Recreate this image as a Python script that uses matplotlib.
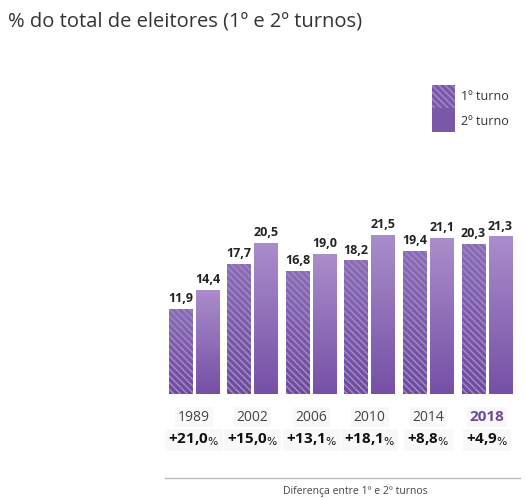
import numpy as np
import matplotlib
matplotlib.use("Agg")
import matplotlib.pyplot as plt
from matplotlib.colors import LinearSegmentedColormap
from matplotlib.patches import Rectangle

anos = ["1989", "2002", "2006", "2010", "2014", "2018"]
turno1 = [11.9, 17.7, 16.8, 18.2, 19.4, 20.3]
turno2 = [14.4, 20.5, 19.0, 21.5, 21.1, 21.3]
diferencas = ["+21,0", "+15,0", "+13,1", "+18,1", "+8,8", "+4,9"]

plt.rcParams["font.family"] = ["Open Sans", "DejaVu Sans"]
plt.rcParams["hatch.linewidth"] = 1.2

W, H = 525, 498
fig = plt.figure(figsize=(W / 100, H / 100), dpi=100)

# eixo em pixels: base das barras em y=394, escala 7.71 px por ponto
base_px = 394
px_unid = 7.71
ybase = 0.87
ymax = 24
x_esq, x_dir = 160, 520
passo = 58.6
x0 = -(194 - x_esq) / passo
ax = fig.add_axes([x_esq / W, (H - base_px) / H, (x_dir - x_esq) / W,
                   (ymax - ybase) * px_unid / H])
ax.set_xlim(x0, x0 + (x_dir - x_esq) / passo)
ax.set_ylim(ybase, ymax)
ax.axis("off")

larg = 24 / passo
desl = 13.5 / passo

grad_solido = LinearSegmentedColormap.from_list("s", ["#7650a6", "#aa8dcb"])
grad_hach = LinearSegmentedColormap.from_list("h", ["#6c4a9c", "#8a6cb5"])
grad = np.linspace(0, 1, 100).reshape(-1, 1)

for i, (v1, v2) in enumerate(zip(turno1, turno2)):
    # 1o turno, hachurado
    xa = i - desl - larg / 2
    r = Rectangle((xa, ybase), larg, v1 - ybase, facecolor="none", edgecolor="none")
    ax.add_patch(r)
    im = ax.imshow(grad, cmap=grad_hach, origin="lower", aspect="auto",
                   extent=[xa, xa + larg, ybase, v1], zorder=1)
    im.set_clip_path(r)
    ax.bar(xa, v1 - ybase, bottom=ybase, width=larg, align="edge", facecolor="none",
           edgecolor="#9f85c6", hatch="\\\\\\\\\\", linewidth=0, zorder=2)
    # 2o turno, solido
    xb = i + desl - larg / 2
    r2 = Rectangle((xb, ybase), larg, v2 - ybase, facecolor="none", edgecolor="none")
    ax.add_patch(r2)
    im2 = ax.imshow(grad, cmap=grad_solido, origin="lower", aspect="auto",
                    extent=[xb, xb + larg, ybase, v2], zorder=1)
    im2.set_clip_path(r2)

    ax.text(i - desl, v1 + 0.5, f"{v1:.1f}".replace(".", ","), ha="center", va="bottom",
            fontsize=9, fontweight="bold", color="#222222")
    ax.text(i + desl, v2 + 0.5, f"{v2:.1f}".replace(".", ","), ha="center", va="bottom",
            fontsize=9, fontweight="bold", color="#222222")

ax.set_xlim(x0, x0 + (x_dir - x_esq) / passo)
ax.set_ylim(ybase, ymax)

# rotulos abaixo das barras (em pixels da figura)
def fy(py):
    return 1 - py / H

caixa = dict(boxstyle="square,pad=0.2", facecolor="#f8f8f8", edgecolor="none")
for i, (ano, d) in enumerate(zip(anos, diferencas)):
    xf = (194 + passo * i) / W
    if ano == "2018":
        fig.text(xf, fy(417), ano, ha="center", va="center", fontsize=11,
                 fontweight="bold", color="#6a4ba0", bbox=caixa)
    else:
        fig.text(xf, fy(417), ano, ha="center", va="center", fontsize=10,
                 color="#444444", bbox=caixa)
    fig.text(xf, fy(440), d + "$_{\\%}$", ha="center", va="center", fontsize=11,
             fontweight="bold", color="#111111", bbox=caixa)

fig.add_artist(plt.Line2D([165 / W, 520 / W], [fy(478), fy(478)], color="#bbbbbb", lw=1))
fig.text(355 / W, fy(491), "Diferença entre 1º e 2º turnos", ha="center", va="center",
         fontsize=7.5, color="#444444")

fig.text(8 / W, fy(21), "% do total de eleitores (1º e 2º turnos)", ha="left", va="center",
         fontsize=14.5, color="#333333")

# legenda
lax = fig.add_axes([0, 0, 1, 1], facecolor="none")
lax.set_xlim(0, W)
lax.set_ylim(H, 0)
lax.axis("off")
lax.add_patch(Rectangle((432, 85), 23, 23, facecolor="#7a58a8", edgecolor="#9f85c6",
                        hatch="\\\\\\\\\\", linewidth=0))
lax.add_patch(Rectangle((432, 108), 23, 24, facecolor="#7a58a8", edgecolor="none"))
lax.text(461, 96, "1º turno", ha="left", va="center", fontsize=9, color="#333333")
lax.text(461, 121, "2º turno", ha="left", va="center", fontsize=9, color="#333333")

fig.savefig("out.png", dpi=100, facecolor="white")
